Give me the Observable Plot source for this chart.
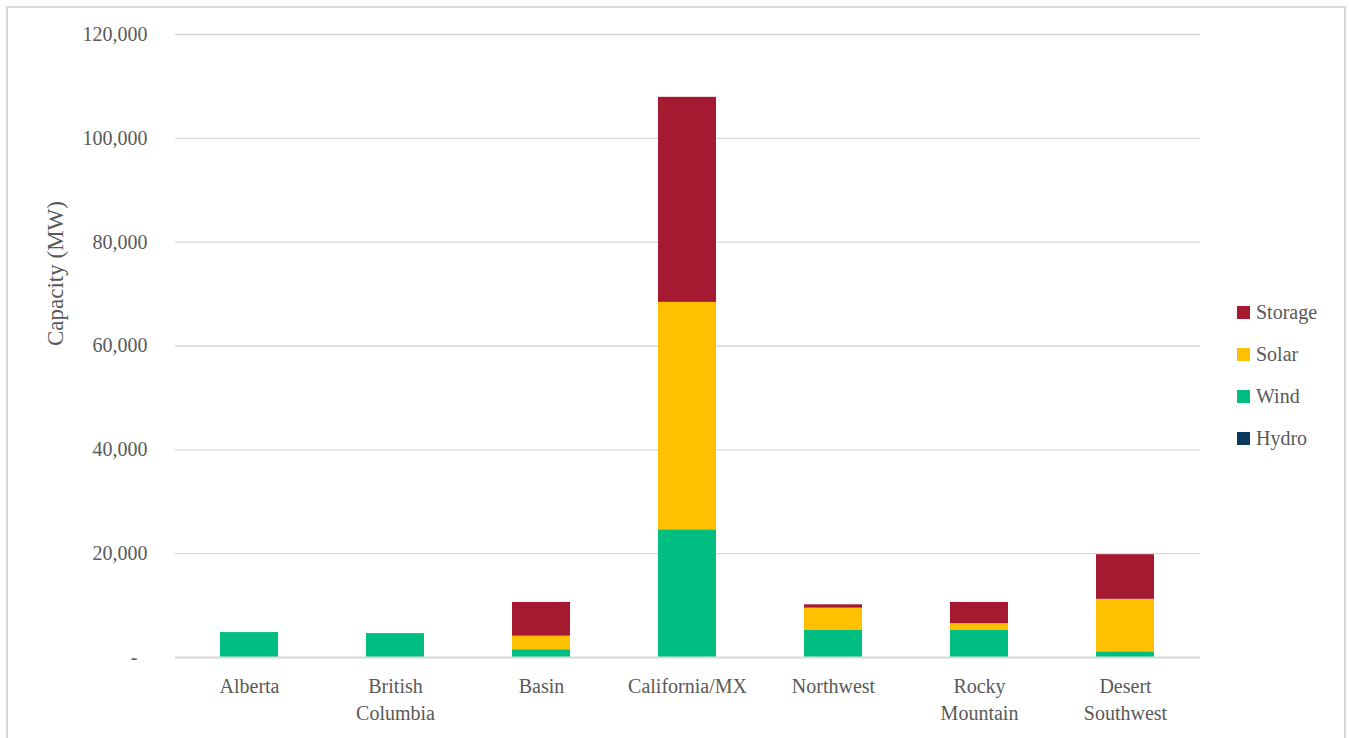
<!DOCTYPE html>
<html>
<head>
<meta charset="utf-8">
<script src="https://cdn.jsdelivr.net/npm/d3@7"></script>
<script src="https://cdn.jsdelivr.net/npm/@observablehq/plot@0.6"></script>
<style>
  html, body { margin: 0; padding: 0; background: #fff; }
  #wrap { position: relative; width: 1349px; height: 738px; overflow: hidden; }
  #frame { position: absolute; left: 6px; top: 6px; width: 1340px; height: 760px; border: 2px solid #d9d9d9; box-sizing: border-box; }
  #legend { position: absolute; left: 1237px; top: 300px; }
  svg { position: absolute; left: 0; top: 0; }
</style>
</head>
<body>
<div id="wrap"><div id="frame"></div><div id="legend"></div></div>
<script>
const categories = ["Alberta", "British Columbia", "Basin", "California/MX", "Northwest", "Rocky Mountain", "Desert Southwest"];
const categoryLabels = ["Alberta", "British\nColumbia", "Basin", "California/MX", "Northwest", "Rocky\nMountain", "Desert\nSouthwest"];
const series = ["Hydro", "Wind", "Solar", "Storage"];
const seriesColors = ["#0B3A5E", "#00BE82", "#FFC000", "#A51A31"];
const hydro   = [0, 0, 0, 0, 0, 0, 0];
const wind    = [4800, 4600, 1500, 24600, 5200, 5200, 1100];
const solar   = [0, 0, 2600, 43800, 4300, 1300, 10100];
const storage = [0, 0, 6500, 39500, 650, 4100, 8600];
const yTicks = [0, 20000, 40000, 60000, 80000, 100000, 120000];

const seriesValues = {Hydro: hydro, Wind: wind, Solar: solar, Storage: storage};
const rows = [];
categories.forEach((c, i) => {
  series.forEach(s => rows.push({region: c, type: s, value: seriesValues[s][i]}));
});
const labelOf = new Map(categories.map((c, i) => [c, categoryLabels[i]]));
const fmt = d3.format(",");

const chart = Plot.plot({
  width: 1349,
  height: 738,
  marginLeft: 175,
  marginRight: 149,
  marginTop: 34,
  marginBottom: 81,
  style: {fontFamily: "'Liberation Serif', serif", fontSize: "20px", color: "#595959", background: "transparent"},
  x: {domain: categories, paddingInner: 0.6, paddingOuter: 0.3, label: null},
  y: {domain: [0, 120000], label: null},
  color: {domain: series, range: seriesColors},
  marks: [
    Plot.gridY(yTicks, {stroke: "#d9d9d9", strokeOpacity: 1, strokeWidth: 1.3}),
    Plot.barY(rows, Plot.stackY({x: "region", y: "value", fill: "type", order: series})),
    Plot.ruleY([0], {stroke: "#d9d9d9", strokeWidth: 2.2}),
    Plot.axisY({ticks: yTicks, tickSize: 0, tickPadding: 28, fill: "#595959", fontSize: 20,
      tickFormat: d => d === 0 ? "-\u2007" : fmt(d), label: null}),
    Plot.axisX({tickSize: 0, tickPadding: 16, fill: "#595959", fontSize: 20, lineHeight: 1.35,
      tickFormat: d => labelOf.get(d), label: null}),
    Plot.text(["Capacity (MW)"], {frameAnchor: "left", dx: -120, rotate: -90, fontSize: 23, fill: "#595959"})
  ]
});
document.getElementById("wrap").appendChild(chart);

const legend = document.getElementById("legend");
const legendOrder = ["Storage", "Solar", "Wind", "Hydro"];
legendOrder.forEach((s, i) => {
  const d = document.createElement("div");
  d.setAttribute("style", `position:absolute;left:0;top:${i * 42}px;display:flex;align-items:center;white-space:nowrap;font-family:'Liberation Serif',serif;font-size:20px;line-height:24px;color:#595959;`);
  const sw = document.createElement("span");
  sw.setAttribute("style", `display:inline-block;width:13px;height:13px;margin-right:6px;background:${seriesColors[series.indexOf(s)]};`);
  const t = document.createElement("span");
  t.setAttribute("style", "font-family:'Liberation Serif',serif;");
  t.textContent = s;
  d.appendChild(sw); d.appendChild(t);
  legend.appendChild(d);
});
</script>
</body>
</html>
